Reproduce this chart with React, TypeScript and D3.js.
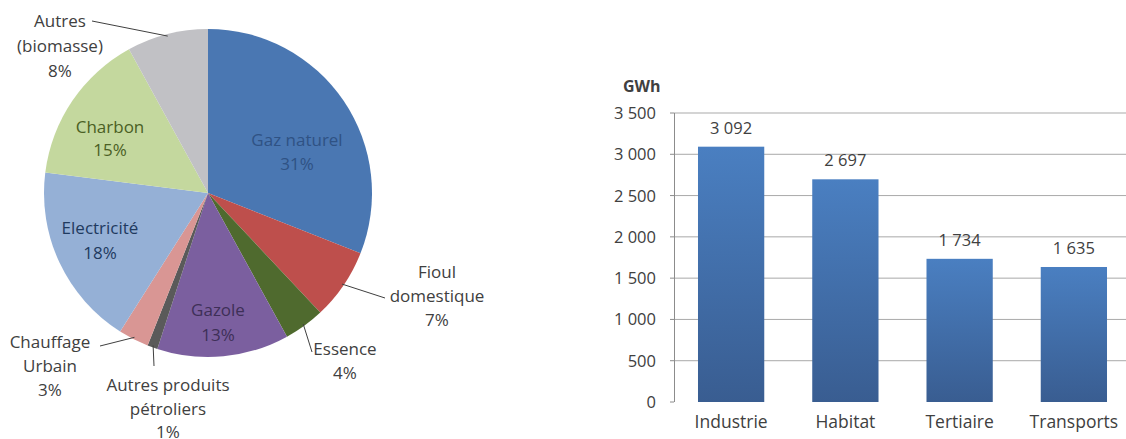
import React from 'react'
import * as d3 from 'd3'

// pie: energy mix, clockwise from 12 o'clock
const pieNames = [
    'Gaz naturel',
    'Fioul domestique',
    'Essence',
    'Gazole',
    'Autres produits pétroliers',
    'Chauffage Urbain',
    'Electricité',
    'Charbon',
    'Autres (biomasse)',
]
const pieShares = [31, 7, 4, 13, 1, 3, 18, 15, 8]
const pieLines = [
    ['Gaz naturel'],
    ['Fioul', 'domestique'],
    ['Essence'],
    ['Gazole'],
    ['Autres produits', 'pétroliers'],
    ['Chauffage', 'Urbain'],
    ['Electricité'],
    ['Charbon'],
    ['Autres', '(biomasse)'],
]

// bars: consumption by sector
const sectors = ['Industrie', 'Habitat', 'Tertiaire', 'Transports']
const sectorGWh = [3092, 2697, 1734, 1635]
const yTicks = [0, 500, 1000, 1500, 2000, 2500, 3000, 3500]

const sliceColors: Record<string, string> = {
    'Gaz naturel': '#4a77b2',
    'Fioul domestique': '#be4f4c',
    'Essence': '#4f6a2e',
    'Gazole': '#7b5f9f',
    'Autres produits pétroliers': '#5a5a5a',
    'Chauffage Urbain': '#d99694',
    'Electricité': '#95b0d6',
    'Charbon': '#c4d89e',
    'Autres (biomasse)': '#c1c1c5',
}

// label layout (text only); inside labels have no leader
const labelLayout: Record<string, { x: number; y: number; step: number; color: string; leader?: [number, number] }> = {
    'Gaz naturel': { x: 297, y: 140, step: 24, color: '#2f5284' },
    'Fioul domestique': { x: 437, y: 272, step: 24, color: '#404040', leader: [385, 298] },
    'Essence': { x: 345, y: 349, step: 24, color: '#404040', leader: [312, 352] },
    'Gazole': { x: 218, y: 310, step: 25, color: '#3e2f57' },
    'Autres produits pétroliers': { x: 168, y: 385, step: 23.5, color: '#404040', leader: [154, 366] },
    'Chauffage Urbain': { x: 50, y: 342, step: 24, color: '#404040', leader: [100, 346] },
    'Electricité': { x: 100, y: 228, step: 25, color: '#1f3a60' },
    'Charbon': { x: 110, y: 127, step: 23, color: '#4b5f24' },
    'Autres (biomasse)': { x: 60, y: 21, step: 25, color: '#404040', leader: [92, 21] },
}

const W = 1126
const H = 439
const FONT = "'Open Sans', sans-serif"
const TEXT = '#404040'

const cx = 208
const cy = 193
const R = 164

const fmt = d3.formatLocale({ decimal: ',', thousands: ' ', grouping: [3], currency: ['', ''] }).format(',')

export default function App() {
    const pie = d3
        .pie<number>()
        .sort(null)
        .value((d) => d)(pieShares)
    const arc = d3.arc<d3.PieArcDatum<number>>().innerRadius(0).outerRadius(R)

    const x = d3.scaleBand<string>().domain(sectors).range([674, 1131]).paddingInner(0.42).paddingOuter(0.21)
    const y = d3.scaleLinear().domain([0, 3500]).range([402, 113])

    return (
        <svg width={W} height={H} style={{ position: 'absolute', left: 0, top: 0, background: '#fff' }} fontFamily={FONT}>
            <defs>
                <linearGradient id="barGrad" x1="0" y1="0" x2="0" y2="1">
                    <stop offset="0%" stopColor="#4a7fc1" />
                    <stop offset="100%" stopColor="#395d91" />
                </linearGradient>
            </defs>

            {/* pie */}
            <g transform={`translate(${cx},${cy})`}>
                {pie.map((d, i) => (
                    <path key={pieNames[i]} d={arc(d)!} fill={sliceColors[pieNames[i]]} />
                ))}
            </g>
            {pie.map((d, i) => {
                const lay = labelLayout[pieNames[i]]
                const mid = (d.startAngle + d.endAngle) / 2
                const lines = [...pieLines[i], `${pieShares[i]}%`]
                return (
                    <g key={pieNames[i]}>
                        {lay.leader && (
                            <line
                                x1={cx + Math.sin(mid) * (R - 2)}
                                y1={cy - Math.cos(mid) * (R - 2)}
                                x2={lay.leader[0]}
                                y2={lay.leader[1]}
                                stroke={TEXT}
                                strokeWidth={1}
                            />
                        )}
                        {lines.map((t, k) => (
                            <text
                                key={k}
                                x={lay.x}
                                y={lay.y + k * lay.step + 6}
                                textAnchor="middle"
                                fontSize={17}
                                fill={lay.color}
                            >
                                {t}
                            </text>
                        ))}
                    </g>
                )
            })}

            {/* bar chart */}
            <text x={623} y={92} fontSize={16} fontWeight="bold" fill={TEXT}>
                GWh
            </text>
            {yTicks.map((t) => (
                <g key={t}>
                    {t > 0 && <line x1={674} x2={W} y1={y(t)} y2={y(t)} stroke="#a9a9a9" strokeWidth={1} />}
                    <line x1={670} x2={674} y1={y(t)} y2={y(t)} stroke="#8c8c8c" strokeWidth={1} />
                    <text x={656} y={y(t) + 6} textAnchor="end" fontSize={16.5} fill={TEXT}>
                        {fmt(t)}
                    </text>
                </g>
            ))}
            <line x1={674.5} x2={674.5} y1={y(3500)} y2={y(0)} stroke="#8c8c8c" strokeWidth={1} />
            {sectors.map((s, i) => (
                <g key={s}>
                    <rect
                        x={x(s)}
                        y={y(sectorGWh[i])}
                        width={x.bandwidth()}
                        height={y(0) - y(sectorGWh[i])}
                        fill="url(#barGrad)"
                    />
                    <text
                        x={x(s)! + x.bandwidth() / 2}
                        y={y(sectorGWh[i]) - 13}
                        textAnchor="middle"
                        fontSize={16.5}
                        fill={TEXT}
                    >
                        {fmt(sectorGWh[i])}
                    </text>
                    <text x={x(s)! + x.bandwidth() / 2} y={428} textAnchor="middle" fontSize={17.5} fill={TEXT}>
                        {s}
                    </text>
                </g>
            ))}
        </svg>
    )
}
